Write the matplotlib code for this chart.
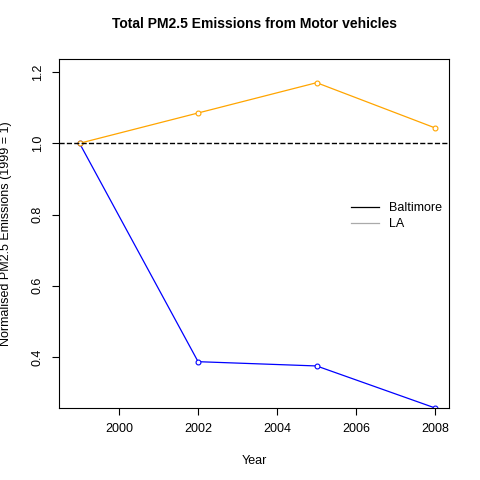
import matplotlib
matplotlib.use('Agg')
import matplotlib.pyplot as plt

years = [1999, 2002, 2005, 2008]
baltimore = [1.0, 0.387, 0.375, 0.257]
la = [1.0, 1.085, 1.17, 1.043]

plt.rcParams['font.family'] = ['Liberation Sans', 'DejaVu Sans']

fig = plt.figure(figsize=(4.8, 4.8), dpi=100)
ax = fig.add_axes([59/480, 72/480, 390/480, 349/480])

ax.plot(years, baltimore, color='blue', lw=0.9, marker='o', ms=3.5, mew=0.8, mfc='white', mec='blue')
ax.plot(years, la, color='orange', lw=0.9, marker='o', ms=3.5, mew=0.8, mfc='white', mec='orange')
ax.axhline(1.0, color='black', ls='--', lw=1)

ax.set_xlim(1998.48, 2008.35)
ax.set_ylim(0.257, 1.2365)
ax.set_xticks([2000, 2002, 2004, 2006, 2008])
ax.set_yticks([0.4, 0.6, 0.8, 1.0, 1.2])
ax.set_yticklabels(['0.4', '0.6', '0.8', '1.0', '1.2'], rotation=90, va='center')
ax.tick_params(labelsize=9, length=5, pad=6)

ax.set_xlabel('Year', fontsize=9, labelpad=14)
ax.set_ylabel('Normalised PM2.5 Emissions (1999 = 1)', fontsize=9, labelpad=14)
ax.set_title('Total PM2.5 Emissions from Motor vehicles', fontsize=10, fontweight='bold', pad=22)

ax.plot([], [], color='black', lw=0.9, label='Baltimore')
ax.plot([], [], color='#aaaaaa', lw=0.9, label='LA')
h, l = ax.get_legend_handles_labels()
ax.legend(h[-2:], l[-2:], frameon=False, fontsize=9, loc='center left',
          bbox_to_anchor=(0.72, 0.55), handlelength=2.2, labelspacing=0.3)

fig.savefig('out.png', dpi=100)
